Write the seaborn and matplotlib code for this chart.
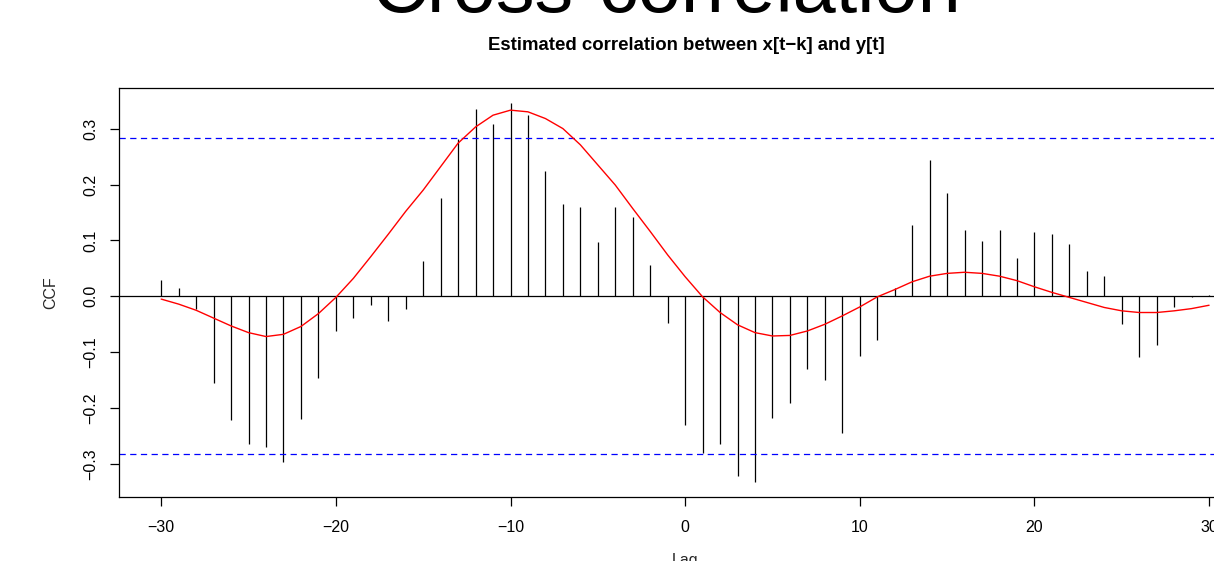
import matplotlib
matplotlib.use("Agg")
import matplotlib.pyplot as plt
import numpy as np
import pandas as pd
import seaborn as sns

# ---- data ----
lags = list(range(-30, 31))
ccf_values = [
    0.029, 0.015, -0.023, -0.155, -0.221, -0.265, -0.269, -0.296, -0.220, -0.147,
    -0.062, -0.038, -0.015, -0.045, -0.022, 0.064, 0.176, 0.281, 0.335, 0.309,
    0.345, 0.325, 0.224, 0.166, 0.160, 0.098, 0.159, 0.141, 0.056, -0.047,
    -0.230, -0.281, -0.265, -0.321, -0.332, -0.218, -0.190, -0.130, -0.149, -0.244,
    -0.107, -0.078, 0.014, 0.128, 0.244, 0.184, 0.118, 0.099, 0.118, 0.068,
    0.115, 0.111, 0.094, 0.045, 0.037, -0.049, -0.108, -0.087, -0.019, -0.002,
    0.002,
]
smooth_values = [
    -0.005, -0.014, -0.025, -0.039, -0.053, -0.065, -0.072, -0.068, -0.054, -0.031,
    -0.002, 0.032, 0.071, 0.111, 0.152, 0.190, 0.232, 0.274, 0.303, 0.324,
    0.333, 0.330, 0.318, 0.300, 0.271, 0.235, 0.199, 0.157, 0.116, 0.074,
    0.035, -0.001, -0.029, -0.051, -0.065, -0.071, -0.070, -0.062, -0.050, -0.035,
    -0.019, -0.001, 0.012, 0.026, 0.036, 0.041, 0.043, 0.041, 0.036, 0.028,
    0.017, 0.007, -0.002, -0.011, -0.020, -0.026, -0.029, -0.029, -0.026, -0.022,
    -0.016,
]
conf_limit = 0.283
x_ticks = [-30, -20, -10, 0, 10, 20, 30]
x_tick_labels = ["\u221230", "\u221220", "\u221210", "0", "10", "20", "30"]
y_ticks = [-0.3, -0.2, -0.1, 0.0, 0.1, 0.2, 0.3]
y_tick_labels = ["\u22120.3", "\u22120.2", "\u22120.1", "0.0", "0.1", "0.2", "0.3"]

title_text = "Cross-correlation"
subtitle_text = "Estimated correlation between x[t\u2212k] and y[t]"
x_label = "Lag"
y_label = "CCF"

# ---- style ----
sns.set_style("ticks")
plt.rcParams["font.family"] = ["Liberation Sans", "DejaVu Sans"]
plt.rcParams["lines.scale_dashes"] = False

W, H = 1214, 561
fig = plt.figure(figsize=(W / 100, H / 100), dpi=100)
ax_l, ax_r, ax_t, ax_b = 119.3, 1251.0, 88.3, 496.7
ax = fig.add_axes([ax_l / W, 1 - ax_b / H, (ax_r - ax_l) / W, (ax_b - ax_t) / H])

df = pd.DataFrame({"lag": lags, "ccf": ccf_values, "smooth": smooth_values})

# stems
ax.vlines(df["lag"], 0, df["ccf"], colors="black", linewidth=0.9)
ax.axhline(0, color="black", linewidth=0.9)
for c in (conf_limit, -conf_limit):
    ax.axhline(c, color="#0000FF", linewidth=0.9, linestyle=(0, (4.5, 3.2)))

sns.lineplot(data=df, x="lag", y="smooth", color="#FF0000", linewidth=1.0, ax=ax)

ax.set_xlim(-32.4, 32.4)
ax.set_ylim(-0.3585, 0.3721)
ax.set_xticks(x_ticks)
ax.set_xticklabels(x_tick_labels)
ax.set_yticks(y_ticks)
ax.set_yticklabels(y_tick_labels, rotation=90, va="center")

ax.tick_params(axis="both", direction="out", length=6.5, width=0.9,
               colors="black", labelsize=11.5)
ax.tick_params(axis="x", pad=10.5)
ax.tick_params(axis="y", pad=8.6)
for s in ax.spines.values():
    s.set_color("black")
    s.set_linewidth(0.9)

ax.set_xlabel(x_label, fontsize=11.5)
ax.xaxis.set_label_coords(0.5, (ax_b - 553) / (ax_b - ax_t))
ax.set_ylabel(y_label, fontsize=11.5)
ax.yaxis.set_label_coords((58.3 - ax_l) / (ax_r - ax_l), 0.5)

fig.text(666 / W, 1 - 12 / H, title_text, ha="center", va="baseline",
         fontsize=55.8, color="black")
fig.text(686 / W, 1 - 45 / H, subtitle_text, ha="center", va="center",
         fontsize=13.4, fontweight="bold", color="black")

fig.savefig("out.png", dpi=100)
